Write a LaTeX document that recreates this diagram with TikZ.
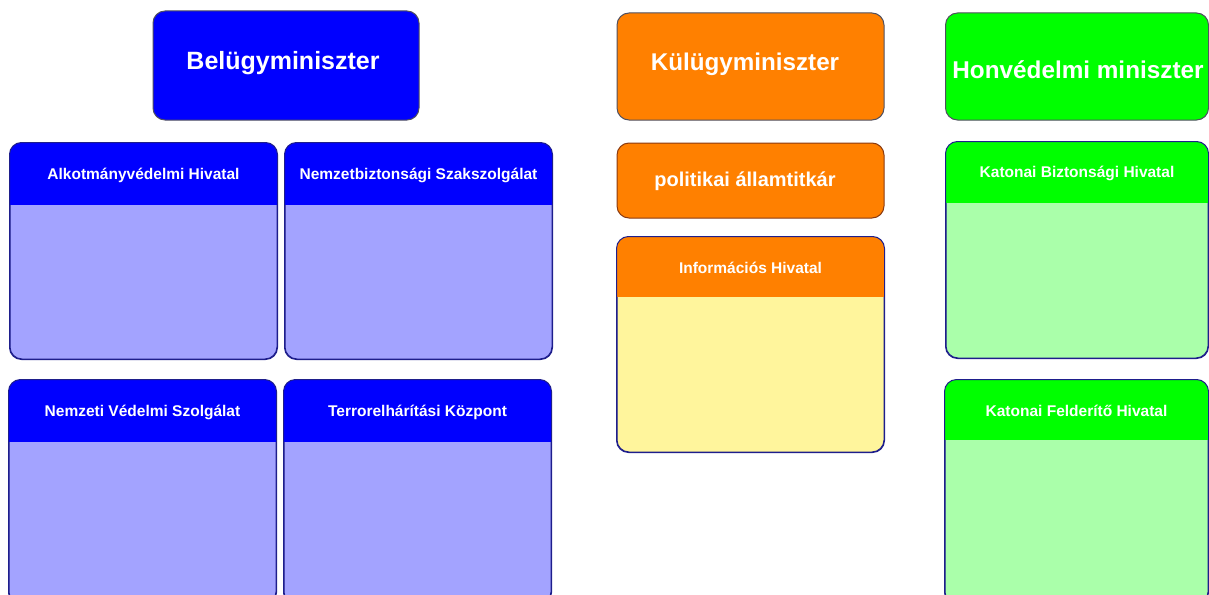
\documentclass[tikz,border=0pt]{standalone}
\usepackage{fontspec}
\setmainfont{Liberation Sans}
\definecolor{hblue}{HTML}{0000FF}
\definecolor{bblue}{HTML}{A3A3FF}
\definecolor{horange}{HTML}{FF8000}
\definecolor{byellow}{HTML}{FFF59C}
\definecolor{hgreen}{HTML}{00FF00}
\definecolor{bgreen}{HTML}{AAFFAA}
\definecolor{navyline}{HTML}{1E1E8C}
\definecolor{grayline}{HTML}{505060}
\definecolor{brownline}{HTML}{8A3A10}
\tikzset{
  boxshape/.style={rectangle, rounded corners=12pt, inner sep=0pt, line width=1pt},
  titlebox/.style={boxshape, draw=grayline},
  panelbox/.style={boxshape, draw=navyline},
  titletext/.style={text=white, inner sep=0pt, font=\bfseries\fontsize{25}{30}\selectfont},
  hdrtext/.style={text=white, inner sep=0pt, font=\bfseries\fontsize{15.5}{18}\selectfont},
}
% \mypanel{name}{x1}{y1}{x2}{y2}{ybar}{hdr}{body}{text}
\newcommand\mypanel[9]{%
  \node[panelbox, fill=#8, minimum width=#4-#2, minimum height=#5-#3] (#1) at ({(#2+#4)/2},{(#3+#5)/2}) {};
  \begin{scope}
    \clip[rounded corners=12pt] (#1.south west) rectangle (#1.north east);
    \fill[#7] (#1.north west) rectangle (#4,#6);
  \end{scope}
  \draw[line width=1pt, draw=navyline, rounded corners=12pt] (#1.south west) rectangle (#1.north east);
  \node[hdrtext] (#1t) at ({(#2+#4)/2},{(#3+#6)/2+1}) {#9};
}
\begin{document}
\begin{tikzpicture}[x=1pt,y=-1pt]
\useasboundingbox (0,0) rectangle (1209,594);
% ministers
\node[titlebox, fill=hblue, minimum width=266pt, minimum height=109pt] (bel) at (286,65.5) {};
\node[titletext] (belt) at (283,63) {Belügyminiszter};
\node[titlebox, fill=horange, minimum width=267pt, minimum height=107pt] (kul) at (750.5,66.5) {};
\node[titletext, font=\bfseries\fontsize{24.2}{29}\selectfont] (kult) at (745,64) {Külügyminiszter};
\node[titlebox, fill=hgreen, minimum width=263pt, minimum height=107pt] (hon) at (1077,66.5) {};
\node[titletext, font=\bfseries\fontsize{24.3}{29}\selectfont] (hont) at (1078,70) {Honvédelmi miniszter};
\node[titlebox, draw=brownline, fill=horange, minimum width=267pt, minimum height=75pt] (pol) at (750.5,180.5) {};
\node[titletext, font=\bfseries\fontsize{20}{24}\selectfont] (polt) at (745,181) {politikai államtitkár};
% panels
\mypanel{alk}{10}{143}{277}{359}{205}{hblue}{bblue}{Alkotmányvédelmi Hivatal}
\mypanel{nbsz}{285}{143}{552}{359}{205}{hblue}{bblue}{Nemzetbiztonsági Szakszolgálat}
\mypanel{nvsz}{9}{380}{276}{604}{442}{hblue}{bblue}{Nemzeti Védelmi Szolgálat}
\mypanel{tek}{284}{380}{551}{604}{442}{hblue}{bblue}{Terrorelhárítási Központ}
\mypanel{ih}{617}{237}{884}{452}{297}{horange}{byellow}{Információs Hivatal}
\mypanel{kbh}{946}{142}{1208}{358}{203}{hgreen}{bgreen}{Katonai Biztonsági Hivatal}
\mypanel{kfh}{945}{380}{1208}{604}{440}{hgreen}{bgreen}{Katonai Felderítő Hivatal}
\end{tikzpicture}
\end{document}
